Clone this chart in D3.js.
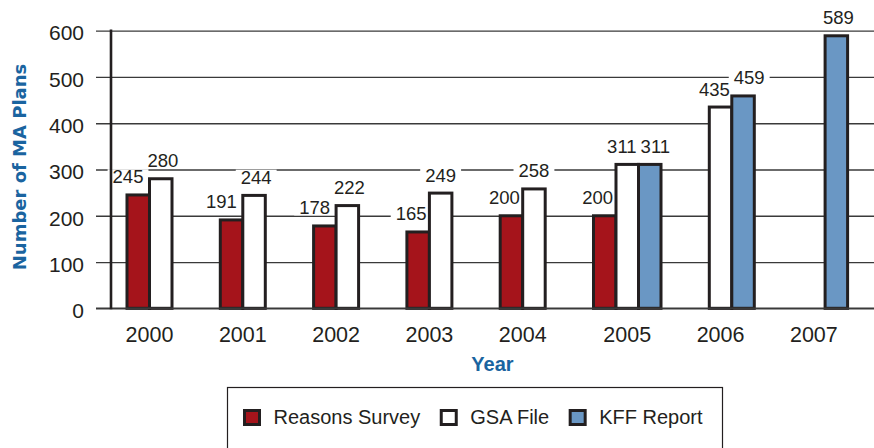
<!DOCTYPE html>
<html>
<head>
<meta charset="utf-8">
<script src="https://cdn.jsdelivr.net/npm/d3@7"></script>
<style>
  html, body { margin: 0; padding: 0; background: #ffffff; }
  svg { display: block; }
</style>
</head>
<body>
<svg id="chart" width="874" height="448"></svg>
<script>
// ---- data ----
const years = ["2000", "2001", "2002", "2003", "2004", "2005", "2006", "2007"];
const seriesNames = ["Reasons Survey", "GSA File", "KFF Report"];
const reasonsSurvey = [245, 191, 178, 165, 200, 200, null, null];
const gsaFile = [280, 244, 222, 249, 258, 311, 435, null];
const kffReport = [null, null, null, null, null, 311, 459, 589];
const yTicks = [0, 100, 200, 300, 400, 500, 600];
const yTitle = "Number of MA Plans";
const xTitle = "Year";

// ---- styles ----
const ink = "#231f20";
const titleBlue = "#1a64a0";
const fills = ["#a5141b", "#ffffff", "#6a97c4"];
const labelDx = [-7, 0, 2];
const seriesValues = [reasonsSurvey, gsaFile, kffReport];
const valueFont = 18.5;

const svg = d3.select("#chart");
const W = 874;

const y = d3.scaleLinear().domain([0, 600]).range([308.3, 30.7]);
const x0 = d3.scaleBand().domain(years).range([114.1, 860.5])
  .paddingInner(0.2765).paddingOuter(0.13825);
const x1 = d3.scaleBand().domain(d3.range(seriesNames.length))
  .range([0, x0.bandwidth()]).padding(0);

// gridlines + y tick labels via axis
const yAxis = d3.axisLeft(y).tickValues(yTicks).tickSize(-(W - 96)).tickPadding(12);
const gAxis = svg.append("g").attr("transform", "translate(96,0)").call(yAxis);
gAxis.select(".domain").remove();
gAxis.selectAll(".tick line").attr("stroke", "#3a3a3a").attr("stroke-width", 1.3);
gAxis.selectAll(".tick text")
  .attr("fill", ink)
  .attr("font-family", "'Liberation Sans', Arial, sans-serif")
  .attr("font-size", 21)
  .attr("dy", "0.44em");

// build bar records
const bars = [];
years.forEach((yr, gi) => {
  seriesValues.forEach((vals, si) => {
    const v = vals[gi];
    if (v !== null && v !== undefined) bars.push({ yr, gi, si, v });
  });
});

const labelLayer = svg.append("g");
const barLayer = svg.append("g");
const textLayer = svg.append("g");

barLayer.selectAll("rect").data(bars).enter().append("rect")
  .attr("x", d => x0(d.yr) + x1(d.si))
  .attr("y", d => y(d.v))
  .attr("width", x1.bandwidth())
  .attr("height", d => y(0) - y(d.v))
  .attr("fill", d => fills[d.si])
  .attr("stroke", ink)
  .attr("stroke-width", 3);

// baseline over bars
svg.append("line")
  .attr("x1", 96).attr("x2", W).attr("y1", y(0)).attr("y2", y(0))
  .attr("stroke", "#3a3a3a").attr("stroke-width", 1.5);

// vertical axis line
svg.append("line")
  .attr("x1", 111).attr("x2", 111).attr("y1", y(600) - 1.2).attr("y2", y(0) + 1)
  .attr("stroke", ink).attr("stroke-width", 2.6);

// value labels
const labels = bars.map(d => ({
  ...d,
  x: x0(d.yr) + x1(d.si) + x1.bandwidth() / 2 + labelDx[d.si],
  base: y(d.v) - 11.5
}));
const texts = textLayer.selectAll("text").data(labels).enter().append("text")
  .attr("font-family", "'Liberation Sans', Arial, sans-serif")
  .attr("font-size", valueFont)
  .attr("fill", ink)
  .attr("text-anchor", "middle")
  .text(d => d.v);
texts.each(function(d) { d.w = this.getComputedTextLength(); });

// resolve overlaps within each group
years.forEach(yr => {
  const grp = labels.filter(l => l.yr === yr).sort((a, b) => a.si - b.si);
  for (let i = 0; i < grp.length - 1; i++) {
    const a = grp[i], b = grp[i + 1];
    if (Math.abs(a.base - b.base) < 26) {
      const ov = (a.x + a.w / 2 + 4) - (b.x - b.w / 2);
      if (ov > 0) { a.x -= ov * 0.6; b.x += ov * 0.4; }
    }
  }
});
texts.attr("x", d => d.x).attr("y", d => d.base);

// white knock-out behind digits (masks gridlines crossing the numbers)
const digitH = valueFont * 0.716;
labelLayer.selectAll("rect").data(labels).enter().append("rect")
  .attr("x", d => d.x - d.w / 2 - 5)
  .attr("y", d => d.base - digitH - 1)
  .attr("width", d => d.w + 10)
  .attr("height", digitH + 2)
  .attr("fill", "#ffffff");

// year labels
const yearPos = years.map((yr, gi) => {
  const present = seriesValues.map((vals, si) => vals[gi] != null ? si : -1).filter(s => s >= 0);
  const last = d3.max(present);
  const start = x0(yr);
  const end = x0(yr) + x1(last) + x1.bandwidth();
  return (start + end) / 2;
});
svg.append("g").selectAll("text").data(years).enter().append("text")
  .attr("x", (d, i) => yearPos[i])
  .attr("y", 341.7)
  .attr("text-anchor", "middle")
  .attr("font-family", "'Liberation Sans', Arial, sans-serif")
  .attr("font-size", 21.5)
  .attr("fill", ink)
  .text(d => d);

// axis titles
svg.append("text")
  .attr("x", 492.5).attr("y", 370.5)
  .attr("text-anchor", "middle")
  .attr("font-family", "'Liberation Sans', Arial, sans-serif")
  .attr("font-weight", "bold")
  .attr("font-size", 20)
  .attr("fill", titleBlue)
  .text(xTitle);

svg.append("text")
  .attr("transform", "translate(26,167) rotate(-90)")
  .attr("text-anchor", "middle")
  .attr("font-family", "'DejaVu Sans', sans-serif")
  .attr("font-weight", "bold")
  .attr("font-size", 18)
  .attr("fill", titleBlue)
  .text(yTitle);

// legend
svg.append("rect")
  .attr("x", 227.5).attr("y", 387.5).attr("width", 495).attr("height", 80)
  .attr("fill", "none").attr("stroke", ink).attr("stroke-width", 1.2);

const leg = svg.append("g");
let lx = 243;
seriesNames.forEach((name, i) => {
  leg.append("rect")
    .attr("x", lx + 1.5).attr("y", 410.5).attr("width", 15).attr("height", 14)
    .attr("fill", fills[i]).attr("stroke", ink).attr("stroke-width", 3);
  const t = leg.append("text")
    .attr("x", lx + 30.5).attr("y", 424.3)
    .attr("font-family", "'Liberation Sans', Arial, sans-serif")
    .attr("font-size", 20)
    .attr("fill", ink)
    .text(name);
  lx = lx + 30.5 + t.node().getComputedTextLength() + 19.5;
});
</script>
</body>
</html>
